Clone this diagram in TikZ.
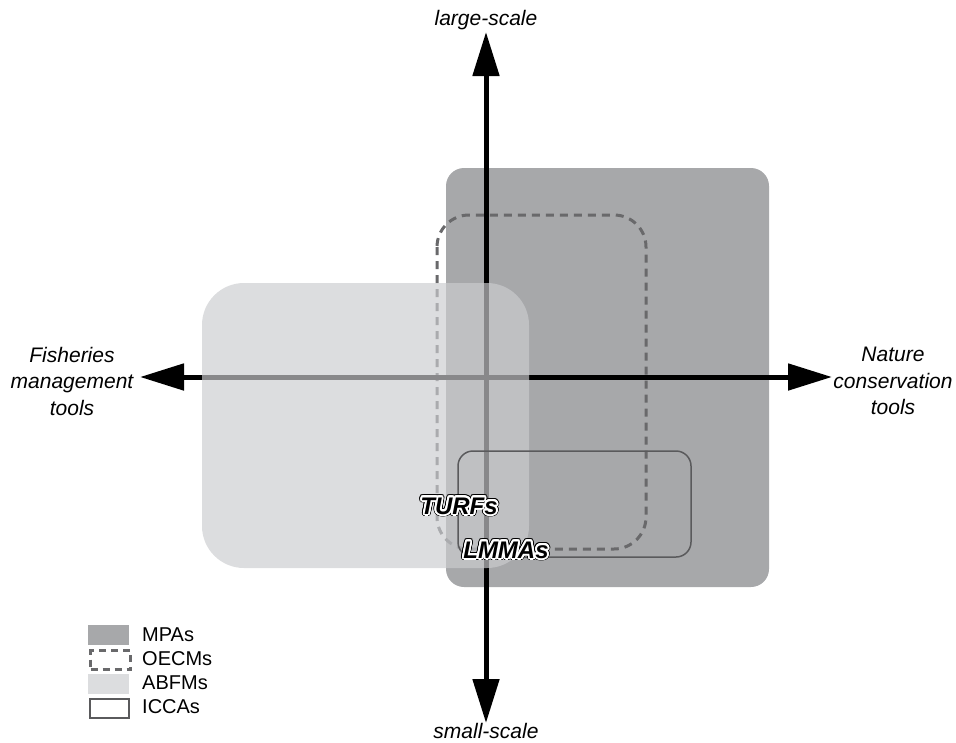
\documentclass[tikz,border=0pt]{standalone}
\usepackage{fontspec}
\setmainfont{Liberation Sans}
\usepackage{contour}
\contournumber{24}
\usetikzlibrary{arrows.meta}
\definecolor{mpagray}{RGB}{167,168,170}
\definecolor{abfmfill}{RGB}{203,204,207}
\definecolor{abfmsolid}{RGB}{220,221,223}
\definecolor{dashgray}{RGB}{105,105,107}
\definecolor{iccagray}{RGB}{90,90,92}
\begin{document}
\begin{tikzpicture}[x=1pt,y=-1pt,
  mpa/.style={fill=mpagray, draw=none, rounded corners=18pt},
  oecm/.style={draw=dashgray, line width=3pt, dash pattern=on 8pt off 6pt, rounded corners=32pt},
  abfm/.style={fill=abfmfill, fill opacity=0.67, draw=none, rounded corners=42pt},
  icca/.style={draw=iccagray, line width=1.5pt, rounded corners=15pt},
  axis/.style={line width=5pt, {Triangle[length=44pt,width=26pt]}-{Triangle[length=44pt,width=26pt]}},
  lab/.style={font=\fontsize{21}{26.5}\selectfont\itshape, align=center, inner sep=0pt},
  tag/.style={font=\fontsize{24}{28}\selectfont\bfseries\itshape, inner sep=0pt},
  leg/.style={font=\fontsize{20}{24}\selectfont, anchor=west, inner sep=0pt},
  swatch/.style={minimum width=41pt, minimum height=20pt, inner sep=0pt, anchor=west}
]
\useasboundingbox (0,0) rectangle (956,742);
% regions
\fill[mpa] (446,168) rectangle (769,587);
\draw[oecm] (437,215) rectangle (646,549);
% axes
\coordinate (top) at (486,32);
\coordinate (bottom) at (486,723);
\coordinate (left) at (140,377);
\coordinate (right) at (832,377);
\draw[axis] (left) -- (right);
\draw[axis] (bottom) -- (top);
% ABFM overlay
\fill[abfm] (202,283) rectangle (529,568);
\draw[icca] (458,451) rectangle (691,557);
% axis labels
\node[lab] (large) at (486,20) {large-scale};
\node[lab] (small) at (486,731) {small-scale};
\node[lab] (fish) at (72,381) {Fisheries\\management\\tools};
\node[lab] (nat) at (893,381) {Nature\\conservation\\tools};
% tags
\node[tag] (turfsrim) at (459,507) {\contourlength{2.7pt}\contour{black}{TURFs}};
\node[tag] (turfs) at (459,507) {\contourlength{1.8pt}\contour{white}{TURFs}};
\node[tag] (lmmasrim) at (506,551) {\contourlength{2.7pt}\contour{black}{LMMAs}};
\node[tag] (lmmas) at (506,551) {\contourlength{1.8pt}\contour{white}{LMMAs}};
% legend
\node[swatch, fill=mpagray] (s1) at (88,635) {};
\node[swatch, draw=dashgray, line width=3pt, dash pattern=on 7pt off 5pt, minimum width=40pt, minimum height=19pt] (s2) at (89,660) {};
\node[swatch, fill=abfmsolid] (s3) at (88,684) {};
\node[swatch, draw=iccagray, line width=1.5pt, minimum width=39pt, minimum height=19pt] (s4) at (89,708.5) {};
\node[leg] (t1) at (142,635) {MPAs};
\node[leg] (t2) at (142,659) {OECMs};
\node[leg] (t3) at (142,683) {ABFMs};
\node[leg] (t4) at (142,707) {ICCAs};
\end{tikzpicture}
\end{document}
